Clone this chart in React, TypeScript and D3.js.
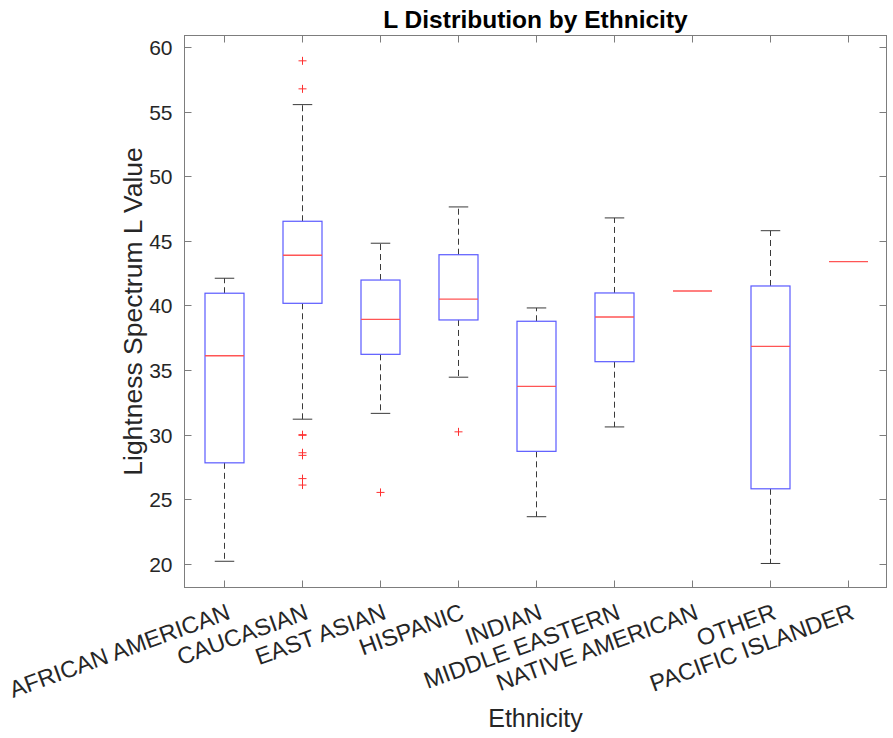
import { useEffect, useRef } from "react"
import * as d3 from "d3"

// values
const categories = [
    "AFRICAN AMERICAN",
    "CAUCASIAN",
    "EAST ASIAN",
    "HISPANIC",
    "INDIAN",
    "MIDDLE EASTERN",
    "NATIVE AMERICAN",
    "OTHER",
    "PACIFIC ISLANDER",
]
const whiskerLow = [20.2, 31.2, 31.65, 34.45, 23.65, 30.6, 41.12, 20.03, 43.39]
const q1 = [27.82, 40.17, 36.22, 38.88, 28.71, 35.65, 41.12, 25.81, 43.39]
const medians = [36.11, 43.89, 38.93, 40.5, 33.74, 39.11, 41.12, 36.84, 43.39]
const q3 = [40.95, 46.52, 41.97, 43.93, 38.78, 40.97, 41.12, 41.51, 43.39]
const whiskerHigh = [42.11, 55.55, 44.82, 47.63, 39.81, 46.78, 41.12, 45.79, 43.39]
const outliers = [
    [],
    [58.94, 56.77, 30.0, 29.95, 28.6, 28.4, 26.6, 26.1],
    [25.53],
    [30.22],
    [],
    [],
    [],
    [],
    [],
]
const yTicks = [20, 25, 30, 35, 40, 45, 50, 55, 60]

const W = 893
const H = 738
const FONT = "'Liberation Sans', Arial, Helvetica, sans-serif"

export default function App() {
    const ref = useRef<SVGSVGElement | null>(null)

    useEffect(() => {
        const host = ref.current
        if (!host) return
        const svg = d3.select(host)
        svg.selectAll("*").remove()

        const left = 184.5
        const right = 886.5
        const top = 35.5
        const bottom = 587.5

        const x = d3.scaleLinear().domain([0.5, categories.length + 0.5]).range([left, right])
        const y = d3.scaleLinear().domain([18.17, 60.9]).range([bottom, top])

        const axisColor = "#7d7d7d"
        const textColor = "#262626"
        const tickLen = 7

        // frame
        svg.append("rect")
            .attr("x", left)
            .attr("y", top)
            .attr("width", right - left)
            .attr("height", bottom - top)
            .attr("fill", "white")
            .attr("stroke", axisColor)
            .attr("stroke-width", 1)

        // y ticks (left and right, inward)
        const yt = svg.append("g")
        yTicks.forEach(t => {
            const py = Math.round(y(t)) + 0.5
            yt.append("line").attr("x1", left).attr("x2", left + tickLen).attr("y1", py).attr("y2", py).attr("stroke", axisColor)
            yt.append("line").attr("x1", right).attr("x2", right - tickLen).attr("y1", py).attr("y2", py).attr("stroke", axisColor)
            yt.append("text")
                .attr("x", left - 12)
                .attr("y", py)
                .attr("dy", "0.35em")
                .attr("text-anchor", "end")
                .attr("font-family", FONT)
                .attr("font-size", 21)
                .attr("fill", textColor)
                .text(t)
        })

        // x ticks (bottom and top, inward)
        const xt = svg.append("g")
        categories.forEach((c, i) => {
            const px = Math.round(x(i + 1)) + 0.5
            xt.append("line").attr("x1", px).attr("x2", px).attr("y1", bottom).attr("y2", bottom - tickLen).attr("stroke", axisColor)
            xt.append("line").attr("x1", px).attr("x2", px).attr("y1", top).attr("y2", top + tickLen).attr("stroke", axisColor)
            xt.append("text")
                .attr("transform", `translate(${px + 7},${bottom + 31}) rotate(-20)`)
                .attr("text-anchor", "end")
                .attr("font-family", FONT)
                .attr("font-size", 23.5)
                .attr("fill", textColor)
                .text(c)
        })

        const boxW = x(1.25) - x(1)
        const capW = x(1.125) - x(1)

        const g = svg.append("g")
        categories.forEach((c, i) => {
            const cx = Math.round(x(i + 1)) + 0.5
            const dash = "6,4"
            const boxH = y(q1[i]) - y(q3[i])
            if (boxH > 0) {
                // whiskers
                g.append("line").attr("x1", cx).attr("x2", cx).attr("y1", y(q3[i])).attr("y2", y(whiskerHigh[i]))
                    .attr("stroke", "#3a3a3a").attr("stroke-dasharray", dash)
                g.append("line").attr("x1", cx).attr("x2", cx).attr("y1", y(q1[i])).attr("y2", y(whiskerLow[i]))
                    .attr("stroke", "#3a3a3a").attr("stroke-dasharray", dash)
                g.append("line").attr("x1", cx - capW).attr("x2", cx + capW).attr("y1", y(whiskerHigh[i])).attr("y2", y(whiskerHigh[i]))
                    .attr("stroke", "#3a3a3a")
                g.append("line").attr("x1", cx - capW).attr("x2", cx + capW).attr("y1", y(whiskerLow[i])).attr("y2", y(whiskerLow[i]))
                    .attr("stroke", "#3a3a3a")
                // box
                g.append("rect")
                    .attr("x", cx - boxW)
                    .attr("y", y(q3[i]))
                    .attr("width", boxW * 2)
                    .attr("height", boxH)
                    .attr("fill", "none")
                    .attr("stroke", "#5a5aff")
                    .attr("stroke-width", 1.2)
            }
            // median
            g.append("line").attr("x1", cx - boxW).attr("x2", cx + boxW).attr("y1", y(medians[i])).attr("y2", y(medians[i]))
                .attr("stroke", "#ff5555").attr("stroke-width", 1.3)
            // outliers
            outliers[i].forEach(v => {
                const oy = y(v)
                g.append("path")
                    .attr("d", `M${cx - 4},${oy}H${cx + 4}M${cx},${oy - 4}V${oy + 4}`)
                    .attr("stroke", "#ff3030")
                    .attr("fill", "none")
            })
        })

        // title and labels
        svg.append("text")
            .attr("x", (left + right) / 2)
            .attr("y", 28)
            .attr("text-anchor", "middle")
            .attr("font-family", FONT)
            .attr("font-weight", "bold")
            .attr("font-size", 24.5)
            .attr("fill", "#000")
            .text("L Distribution by Ethnicity")

        svg.append("text")
            .attr("transform", `translate(142,${(top + bottom) / 2}) rotate(-90)`)
            .attr("text-anchor", "middle")
            .attr("font-family", FONT)
            .attr("font-size", 26.5)
            .attr("fill", textColor)
            .text("Lightness Spectrum L Value")

        svg.append("text")
            .attr("x", (left + right) / 2)
            .attr("y", 727)
            .attr("text-anchor", "middle")
            .attr("font-family", FONT)
            .attr("font-size", 25)
            .attr("fill", textColor)
            .text("Ethnicity")
    }, [])

    return (
        <div style={{ position: "absolute", left: 0, top: 0 }}>
            <svg ref={ref} width={W} height={H} style={{ display: "block", background: "white" }} />
        </div>
    )
}
